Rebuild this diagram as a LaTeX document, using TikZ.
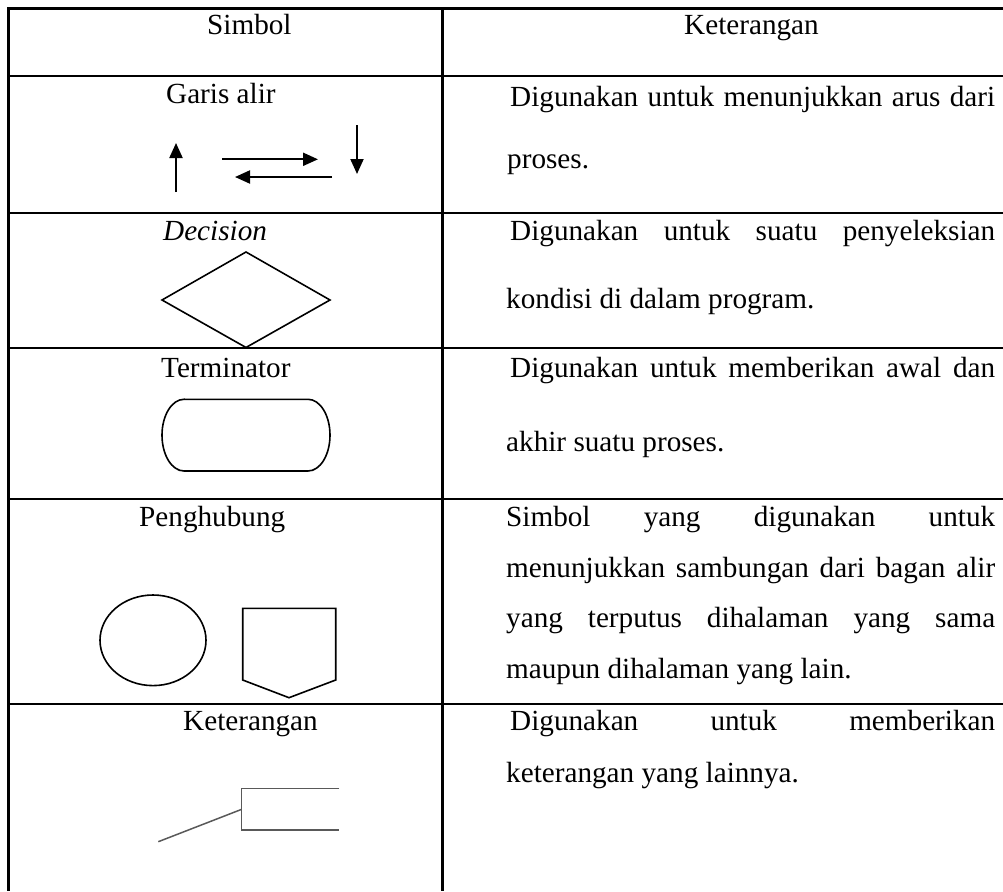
\documentclass[tikz,border=0pt]{standalone}
\usepackage{fontspec}
\setmainfont{Liberation Serif}
\usetikzlibrary{arrows.meta}
\begin{document}
\begin{tikzpicture}[x=1pt,y=-1pt,
  grid/.style={line width=2.5pt},
  shp/.style={line width=1.6pt, line join=miter},
  flow/.style={line width=2pt, -{Triangle[length=15pt,width=13pt]}},
  txt/.style={inner sep=0pt, anchor=base west, font=\fontsize{29.2}{35}\selectfont},
  note/.style={line width=1.5pt, draw=black!65}]
\useasboundingbox (0,0) rectangle (1003,891);
% table rules
\draw[grid] (8.3,7.05) -- (8.3,891);
\draw[grid] (442.5,7.05) -- (442.5,891);
\foreach \yy in {8.3,76,213,348,499,704}
  \draw[grid] (7.05,\yy) -- (1003,\yy);
% header
\node[txt] (hs) at (207,35) {Simbol};
\node[txt] (hk) at (684,35) {Keterangan};
% row 1
\node[txt] (s1) at (166,103) {Garis alir};
\draw[flow] (176,192) -- (176,143);
\draw[flow] (222,159.3) -- (318,159.3);
\draw[flow] (332,177) -- (235,177);
\draw[flow] (357,125) -- (357,174);
\node[txt] (k1a) at (510,106) {\makebox[485pt][s]{Digunakan untuk menunjukkan arus dari}};
\node[txt] (k1b) at (507,168) {proses.};
% row 2
\node[txt] (s2) at (163,240) {\itshape Decision};
\draw[shp] (246,252) -- (330,300) -- (246,347.5) -- (162,300) -- cycle;
\node[txt] (k2a) at (510,240) {\makebox[485pt][s]{Digunakan untuk suatu penyeleksian}};
\node[txt] (k2b) at (506,308) {kondisi di dalam program.};
% row 3
\node[txt] (s3) at (161,377) {Terminator};
\draw[shp] (184,399.3) -- (308,399.3) arc[start angle=90,end angle=-90,x radius=22,y radius=-35.85]
  -- (184,471) arc[start angle=270,end angle=90,x radius=22,y radius=-35.85] -- cycle;
\node[txt] (k3a) at (510,377) {\makebox[485pt][s]{Digunakan untuk memberikan awal dan}};
\node[txt] (k3b) at (506,451) {akhir suatu proses.};
% row 4
\node[txt] (s4) at (139,526) {Penghubung};
\draw[shp] (153,640.3) ellipse [x radius=53, y radius=45.3];
\draw[shp] (242.7,608.3) -- (335.7,608.3) -- (335.7,680) -- (289,697.7) -- (242.7,680) -- cycle;
\node[txt] (k4a) at (506,526.5) {\makebox[489pt][s]{Simbol yang digunakan untuk}};
\node[txt] (k4b) at (506,577) {\makebox[489pt][s]{menunjukkan sambungan dari bagan alir}};
\node[txt] (k4c) at (506,627) {\makebox[489pt][s]{yang terputus dihalaman yang sama}};
\node[txt] (k4d) at (506,678) {maupun dihalaman yang lain.};
% row 5
\node[txt] (s5) at (183,730) {Keterangan};
\draw[note] (339.3,788.3) -- (241.7,788.3) -- (241.7,830) -- (339.3,830);
\draw[note] (158.3,841.7) -- (241.7,809.3);
\node[txt] (k5a) at (510,730) {\makebox[485pt][s]{Digunakan untuk memberikan}};
\node[txt] (k5b) at (506,782) {keterangan yang lainnya.};
\end{tikzpicture}
\end{document}
